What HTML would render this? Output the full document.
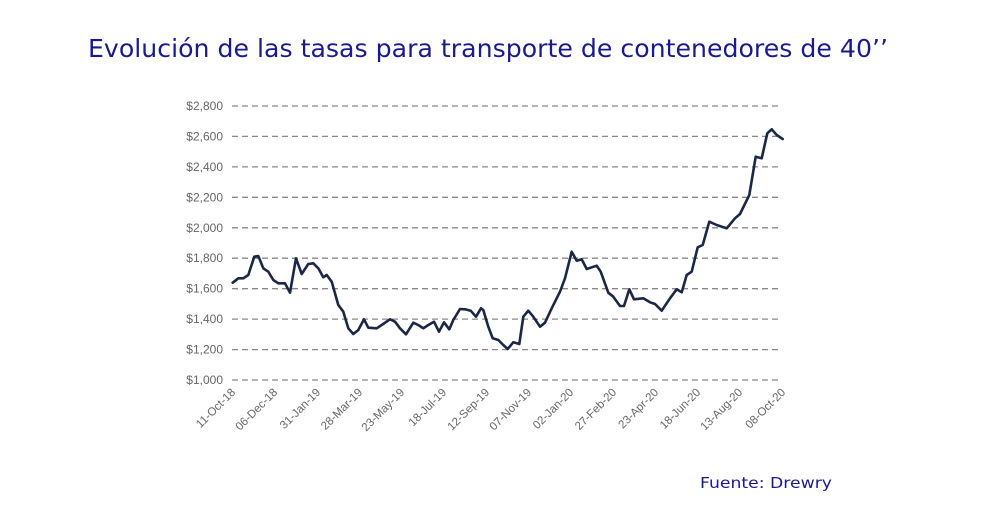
<!DOCTYPE html>
<html><head><meta charset="utf-8"><style>
body{margin:0;background:#fff;width:1000px;height:500px;overflow:hidden}
</style></head><body>
<svg width="1000" height="500" xmlns="http://www.w3.org/2000/svg" font-family="Liberation Sans, Arial, sans-serif">
<text x="88" y="57" font-size="25" font-family="DejaVu Sans, sans-serif" fill="#1a1a8e" textLength="800" lengthAdjust="spacingAndGlyphs">Evolución de las tasas para transporte de contenedores de 40’’</text>
<g stroke="#888" stroke-width="1.3" stroke-dasharray="6,4">
<line x1="232" x2="782" y1="106" y2="106"/><line x1="232" x2="782" y1="136.4" y2="136.4"/>
<line x1="232" x2="782" y1="166.9" y2="166.9"/><line x1="232" x2="782" y1="197.3" y2="197.3"/>
<line x1="232" x2="782" y1="227.8" y2="227.8"/><line x1="232" x2="782" y1="258.2" y2="258.2"/>
<line x1="232" x2="782" y1="288.7" y2="288.7"/><line x1="232" x2="782" y1="319.1" y2="319.1"/>
<line x1="232" x2="782" y1="349.6" y2="349.6"/><line x1="232" x2="782" y1="380" y2="380"/>
</g>
<g font-size="12" fill="#666" text-anchor="end">
<text x="223" y="110">$2,800</text><text x="223" y="140.4">$2,600</text><text x="223" y="170.9">$2,400</text>
<text x="223" y="201.3">$2,200</text><text x="223" y="231.8">$2,000</text><text x="223" y="262.2">$1,800</text>
<text x="223" y="292.7">$1,600</text><text x="223" y="323.1">$1,400</text><text x="223" y="353.6">$1,200</text>
<text x="223" y="384">$1,000</text>
</g>
<g font-size="11.5" fill="#666" text-anchor="end">
<text transform="translate(236,393) rotate(-45)">11-Oct-18</text>
<text transform="translate(278,393) rotate(-45)">06-Dec-18</text>
<text transform="translate(321,393) rotate(-45)">31-Jan-19</text>
<text transform="translate(363,393) rotate(-45)">28-Mar-19</text>
<text transform="translate(405,393) rotate(-45)">23-May-19</text>
<text transform="translate(447,393) rotate(-45)">18-Jul-19</text>
<text transform="translate(490,393) rotate(-45)">12-Sep-19</text>
<text transform="translate(532,393) rotate(-45)">07-Nov-19</text>
<text transform="translate(574,393) rotate(-45)">02-Jan-20</text>
<text transform="translate(617,393) rotate(-45)">27-Feb-20</text>
<text transform="translate(659,393) rotate(-45)">23-Apr-20</text>
<text transform="translate(701,393) rotate(-45)">18-Jun-20</text>
<text transform="translate(743,393) rotate(-45)">13-Aug-20</text>
<text transform="translate(786,393) rotate(-45)">08-Oct-20</text>
</g>
<polyline fill="none" stroke="#1c2647" stroke-width="2.6" stroke-linejoin="round" stroke-linecap="round" points="
232.7,282.7 238.3,278.3 243.3,278.3 248.3,275 254.3,256.7 258.3,256 263.3,268.3 268.3,271.7 273.3,280 278.3,283.3 285,283.3 290,292.7 296,258.3 301.7,274 308.3,264 313.3,263.3 318.3,268.3 323.3,277.3 326.7,275 331.7,281.7 338.3,305 343.3,311.7 348.3,328.3 353.3,334 358.3,330 364,319.3 368.3,327.7 376.7,328.3 381.7,325 390,319.3 395,321.7 400,328.3 406,334.3 413.3,322.7 418.3,325 423.3,328.3 428.3,325 434,321.7 439,331.7 444,322.3 449.3,329.3 453.3,320 460,309 465,309.3 470.7,310.7 476,316.7 481,308.3 483.3,310 488.3,326.7 492.7,338.3 498.3,340 503.3,345 507.7,349 513.3,342.3 519.3,344 523.3,316.7 528.3,310.7 533.3,316.7 540,326.7 545,322.7 551.7,308.3 560,291.7 565,278.3 571.7,251.7 576.7,260.7 581.7,259.3 586.7,269 596.7,265.7 600.7,271.7 608.3,292.7 613.3,296.7 620,306 624,306 629.3,289.3 634,299.3 643.3,298.3 650,302.3 655,304 661.7,310.7 670,298.3 676.7,289.3 681.7,292.3 686.7,275 691.7,271.7 697.7,247.3 702.7,245 709.3,221.7 716.7,225 726.7,228.3 735,218.3 740,214 749.3,195 755.7,156.7 761.7,158.3 767.3,133.3 771.7,129.3 776.7,135 782.7,139"/>
<text x="700" y="488" font-size="15" font-family="DejaVu Sans, sans-serif" fill="#1a1a8e" textLength="132" lengthAdjust="spacingAndGlyphs">Fuente: Drewry</text>
</svg>
</body></html>
